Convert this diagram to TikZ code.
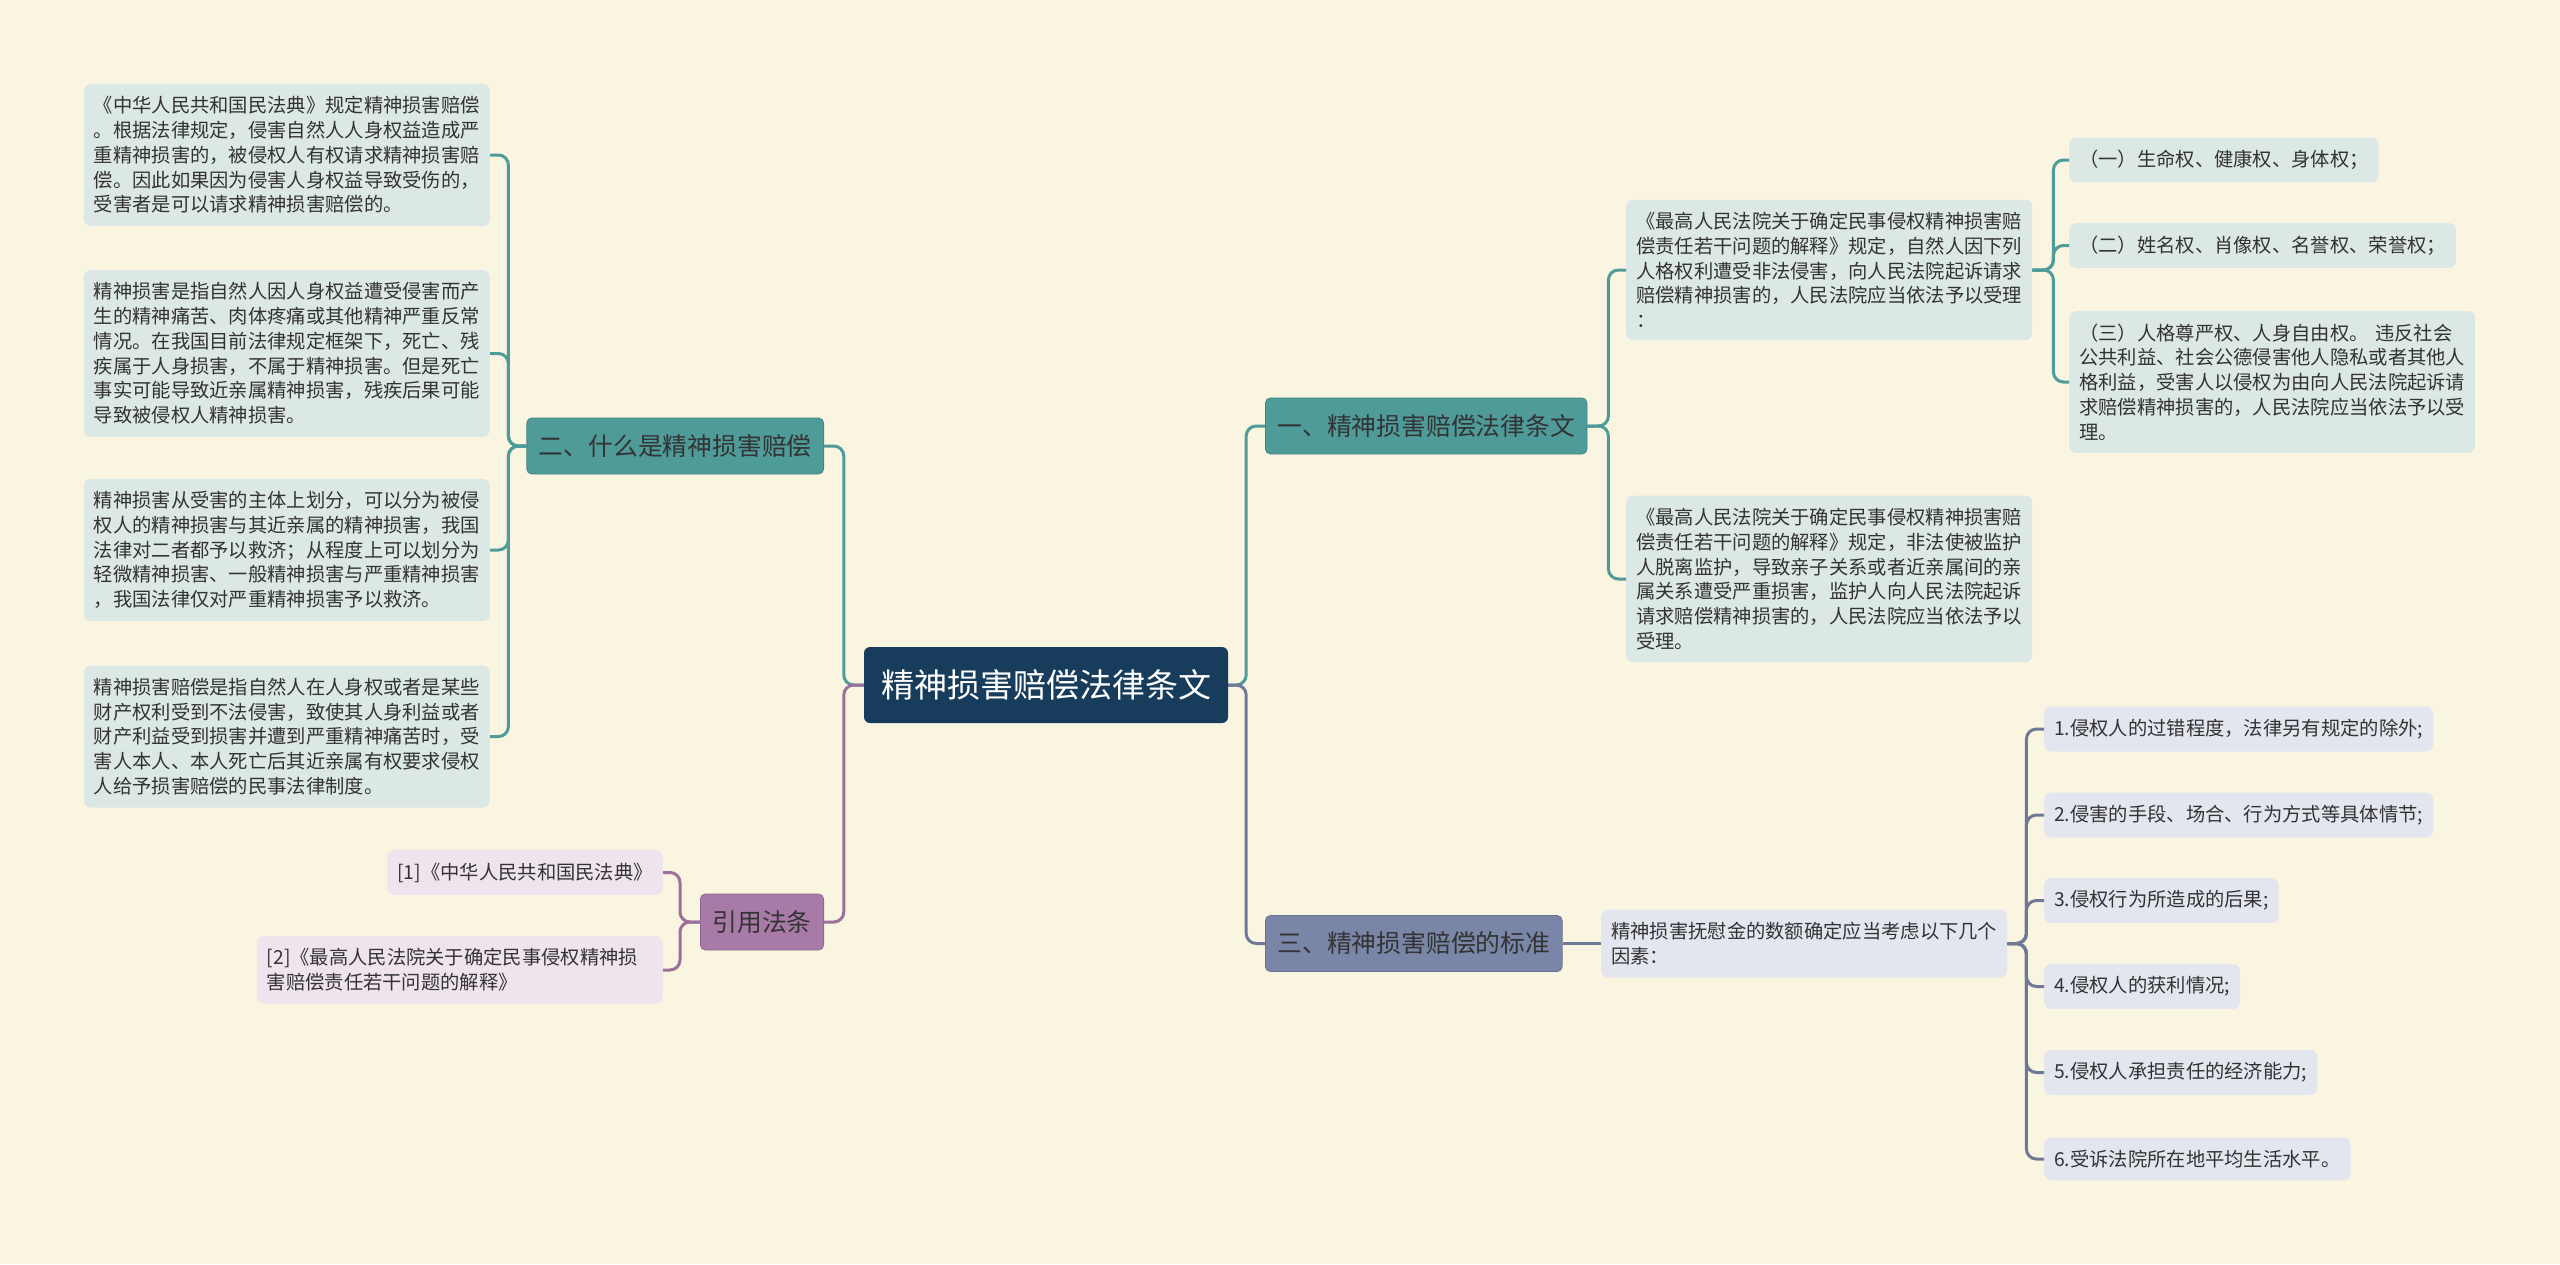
\documentclass[tikz,border=0pt]{standalone}
\usepackage{fontspec}
\setmainfont{Noto Sans CJK SC}
\definecolor{paper}{HTML}{FAF5E1}
\definecolor{rootblue}{HTML}{183D5C}
\definecolor{tealmain}{HTML}{4F9B9A}
\definecolor{tealsoft}{HTML}{DCE8E5}
\definecolor{slatemain}{HTML}{7A86A8}
\definecolor{slatesoft}{HTML}{E3E6EE}
\definecolor{purplemain}{HTML}{A87AA8}
\definecolor{purplesoft}{HTML}{EFE4EE}
\definecolor{inkdark}{HTML}{333333}

\begin{document}
\begin{tikzpicture}[x=1pt, y=-1pt,
	rootnode/.style={rectangle, rounded corners=6pt, minimum height=76pt, inner xsep=17pt, fill=rootblue, text=white, font=\fontsize{33}{38}\selectfont},
	branch/.style={rectangle, rounded corners=5pt, minimum height=56pt, inner xsep=12pt, line width=0.8pt, text=inkdark, font=\fontsize{24.8}{30}\selectfont},
	tealbranch/.style={branch, fill=tealmain, draw=tealmain!85!black},
	slatebranch/.style={branch, fill=slatemain, draw=slatemain!85!black},
	purplebranch/.style={branch, fill=purplemain, draw=purplemain!85!black},
	note/.style={rectangle, rounded corners=7pt, inner xsep=10pt, inner ysep=12.5pt, text=inkdark, font=\fontsize{19.3}{24.75}\selectfont},
	longnote/.style={note, text width=386pt, align=left},
	tealnote/.style={longnote, fill=tealsoft},
	tealitem/.style={note, fill=tealsoft},
	slatenote/.style={longnote, fill=slatesoft},
	slateitem/.style={note, fill=slatesoft},
	purplenote/.style={longnote, fill=purplesoft},
	purpleitem/.style={note, fill=purplesoft},
	link/.style={line width=3pt, rounded corners=10pt},
	teallink/.style={link, draw=tealmain},
	slatelink/.style={link, draw=slatemain!90!black},
	purplelink/.style={link, draw=purplemain!92!black}]

	\fill [paper] (0,0) rectangle (2560,1264);
	\useasboundingbox (0,0) rectangle (2560,1264);

	\node (root) [rootnode] at (1046,685) {精神损害赔偿法律条文};
	\node (law) [tealbranch, anchor=west] at (1265,426) {一、精神损害赔偿法律条文};
	\node (meaning) [tealbranch, anchor=east] at (824,446) {二、什么是精神损害赔偿};
	\node (standard) [slatebranch, anchor=west] at (1265,943.5) {三、精神损害赔偿的标准};
	\node (cite) [purplebranch, anchor=east] at (824,922) {引用法条};

	\node (m1) [tealnote, anchor=east] at (490,155) {《中华人民共和国民法典》规定精神损害赔偿\\。根据法律规定，侵害自然人人身权益造成严\\重精神损害的，被侵权人有权请求精神损害赔\\偿。因此如果因为侵害人身权益导致受伤的，\\受害者是可以请求精神损害赔偿的。};
	\node (m2) [tealnote, anchor=east] at (490,353.5) {精神损害是指自然人因人身权益遭受侵害而产\\生的精神痛苦、肉体疼痛或其他精神严重反常\\情况。在我国目前法律规定框架下，死亡、残\\疾属于人身损害，不属于精神损害。但是死亡\\事实可能导致近亲属精神损害，残疾后果可能\\导致被侵权人精神损害。};
	\node (m3) [tealnote, anchor=east] at (490,550) {精神损害从受害的主体上划分，可以分为被侵\\权人的精神损害与其近亲属的精神损害，我国\\法律对二者都予以救济；从程度上可以划分为\\轻微精神损害、一般精神损害与严重精神损害\\，我国法律仅对严重精神损害予以救济。};
	\node (m4) [tealnote, anchor=east] at (490,736.5) {精神损害赔偿是指自然人在人身权或者是某些\\财产权利受到不法侵害，致使其人身利益或者\\财产利益受到损害并遭到严重精神痛苦时，受\\害人本人、本人死亡后其近亲属有权要求侵权\\人给予损害赔偿的民事法律制度。};

	\node (r1) [purpleitem, anchor=east] at (663,872.5) {[1]《中华人民共和国民法典》};
	\node (r2) [purplenote, anchor=east] at (663,970) {[2]《最高人民法院关于确定民事侵权精神损\\害赔偿责任若干问题的解释》};

	\node (c1) [tealnote, anchor=west] at (1626,270) {《最高人民法院关于确定民事侵权精神损害赔\\偿责任若干问题的解释》规定，自然人因下列\\人格权利遭受非法侵害，向人民法院起诉请求\\赔偿精神损害的，人民法院应当依法予以受理\\：};
	\node (c2) [tealnote, anchor=west] at (1626,579) {《最高人民法院关于确定民事侵权精神损害赔\\偿责任若干问题的解释》规定，非法使被监护\\人脱离监护，导致亲子关系或者近亲属间的亲\\属关系遭受严重损害，监护人向人民法院起诉\\请求赔偿精神损害的，人民法院应当依法予以\\受理。};
	\node (g1) [tealitem, anchor=west] at (2069,160) {（一）生命权、健康权、身体权；};
	\node (g2) [tealitem, anchor=west] at (2069,245.5) {（二）姓名权、肖像权、名誉权、荣誉权；};
	\node (g3) [tealnote, anchor=west] at (2069,382) {（三）人格尊严权、人身自由权。 违反社会\\公共利益、社会公德侵害他人隐私或者其他人\\格利益，受害人以侵权为由向人民法院起诉请\\求赔偿精神损害的，人民法院应当依法予以受\\理。};

	\node (d) [slatenote, anchor=west] at (1601,943.5) {精神损害抚慰金的数额确定应当考虑以下几个\\因素：};
	\node (e1) [slateitem, anchor=west] at (2044,729) {1.侵权人的过错程度，法律另有规定的除外;};
	\node (e2) [slateitem, anchor=west] at (2044,815) {2.侵害的手段、场合、行为方式等具体情节;};
	\node (e3) [slateitem, anchor=west] at (2044,900.5) {3.侵权行为所造成的后果;};
	\node (e4) [slateitem, anchor=west] at (2044,986.5) {4.侵权人的获利情况;};
	\node (e5) [slateitem, anchor=west] at (2044,1072.5) {5.侵权人承担责任的经济能力;};
	\node (e6) [slateitem, anchor=west] at (2044,1159) {6.受诉法院所在地平均生活水平。};

	\draw [teallink] (root.east) -- ++(18,0) |- (law.west);
	\draw [slatelink] (root.east) -- ++(18,0) |- (standard.west);
	\draw [teallink] (root.west) -- ++(-20,0) |- (meaning.east);
	\draw [purplelink] (root.west) -- ++(-20,0) |- (cite.east);

	\draw [teallink] (meaning.west) -- ++(-18,0) |- (m1.east);
	\draw [teallink] (meaning.west) -- ++(-18,0) |- (m2.east);
	\draw [teallink] (meaning.west) -- ++(-18,0) |- (m3.east);
	\draw [teallink] (meaning.west) -- ++(-18,0) |- (m4.east);

	\draw [purplelink] (cite.west) -- ++(-20,0) |- (r1.east);
	\draw [purplelink] (cite.west) -- ++(-20,0) |- (r2.east);

	\draw [teallink] (law.east) -- ++(21,0) |- (c1.west);
	\draw [teallink] (law.east) -- ++(21,0) |- (c2.west);
	\draw [teallink] (c1.east) -- ++(21,0) |- (g1.west);
	\draw [teallink] (c1.east) -- ++(21,0) |- (g2.west);
	\draw [teallink] (c1.east) -- ++(21,0) |- (g3.west);

	\draw [slatelink] (standard.east) -- (d.west);
	\draw [slatelink] (d.east) -- ++(19,0) |- (e1.west);
	\draw [slatelink] (d.east) -- ++(19,0) |- (e2.west);
	\draw [slatelink] (d.east) -- ++(19,0) |- (e3.west);
	\draw [slatelink] (d.east) -- ++(19,0) |- (e4.west);
	\draw [slatelink] (d.east) -- ++(19,0) |- (e5.west);
	\draw [slatelink] (d.east) -- ++(19,0) |- (e6.west);
\end{tikzpicture}
\end{document}
